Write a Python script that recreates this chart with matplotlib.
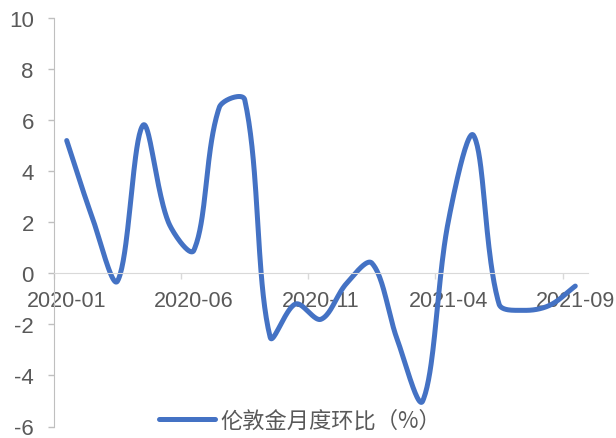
import numpy as np
import matplotlib
matplotlib.use('Agg')
import matplotlib.pyplot as plt

# monthly values (London gold, % m/m)
months = ['2020-01', '2020-02', '2020-03', '2020-04', '2020-05', '2020-06',
          '2020-07', '2020-08', '2020-09', '2020-10', '2020-11', '2020-12',
          '2021-01', '2021-02', '2021-03', '2021-04', '2021-05', '2021-06',
          '2021-07', '2021-08', '2021-09']
values = [5.2, 2.2, -0.3, 5.8, 2.0, 0.9, 6.5, 6.8, -2.5, -1.2, -1.8, -0.4,
          0.4, -2.6, -5.0, 2.0, 5.4, -1.2, -1.45, -1.25, -0.5]
label = '伦敦金月度环比（%）'
yticks = [-6, -4, -2, 0, 2, 4, 6, 8, 10]


def smooth(x, y, sx=1.0, sy=1.0, n=40, tension=1/3):
    ''' Bezier through the points with chord-length scaled tangents,
        close to the office "smoothed line". sx, sy: px per unit '''
    p = np.column_stack([np.asarray(x, float) * sx, np.asarray(y, float) * sy])
    out = []
    t = np.linspace(0, 1, n)[:, None]
    for i in range(len(p) - 1):
        p0 = p[max(i - 1, 0)]
        p1, p2 = p[i], p[i + 1]
        p3 = p[min(i + 2, len(p) - 1)]
        d01 = np.linalg.norm(p1 - p0)
        d12 = np.linalg.norm(p2 - p1)
        d23 = np.linalg.norm(p3 - p2)
        c1 = p1 + (p2 - p0) * tension * d12 / (d01 + d12)
        c2 = p2 - (p3 - p1) * tension * d12 / (d12 + d23)
        seg = ((1 - t)**3 * p1 + 3 * t * (1 - t)**2 * c1
               + 3 * t**2 * (1 - t) * c2 + t**3 * p2)
        out.append(seg)
    out = np.vstack(out)
    return out[:, 0] / sx, out[:, 1] / sy


fig = plt.figure(figsize=(6.16, 4.39), dpi=100)
ax = fig.add_axes([54 / 616, 1 - 427.5 / 439, 534 / 616, 408.5 / 439])

idx = np.arange(len(values))
cx, cy = smooth(idx, values, sx=25.45, sy=25.5)
ax.plot(cx, cy, color='#4472C4', lw=3.6, solid_capstyle='round',
        label=label)

ax.set_xlim(-0.5, len(values) - 0.5)
ax.set_ylim(-6, 10)
ax.set_yticks(yticks)
ax.set_yticklabels([str(v) for v in yticks])

ax.set_xticks(idx[::5])
ax.set_xticklabels(months[::5])
ax.set_xticks(np.arange(-0.5, len(values), 5), minor=True)

ax.spines['top'].set_visible(False)
ax.spines['right'].set_visible(False)
ax.spines['left'].set_color('#BFBFBF')
ax.spines['bottom'].set_position(('data', 0))
ax.spines['bottom'].set_color('#D9D9D9')

ax.tick_params(axis='y', length=4.5, width=1, color='#BFBFBF',
               labelcolor='#595959', pad=10, labelsize=16)
ax.tick_params(axis='x', which='major', length=0, labelcolor='#595959',
               pad=12, labelsize=15.5)
ax.tick_params(axis='x', which='minor', length=4.5, width=1,
               color='#D9D9D9', direction='out')
for t in ax.get_xticklabels() + ax.get_yticklabels():
    t.set_fontfamily('Liberation Sans')

leg = ax.legend(loc='center', bbox_to_anchor=(300 / 616, 1 - 421 / 439),
                bbox_transform=fig.transFigure, frameon=False,
                handlelength=2.5, handletextpad=0.25,
                prop={'family': ['Noto Sans CJK SC', 'DejaVu Sans'],
                      'size': 16})
for t in leg.get_texts():
    t.set_color('#595959')

fig.savefig('out.png', dpi=100)
